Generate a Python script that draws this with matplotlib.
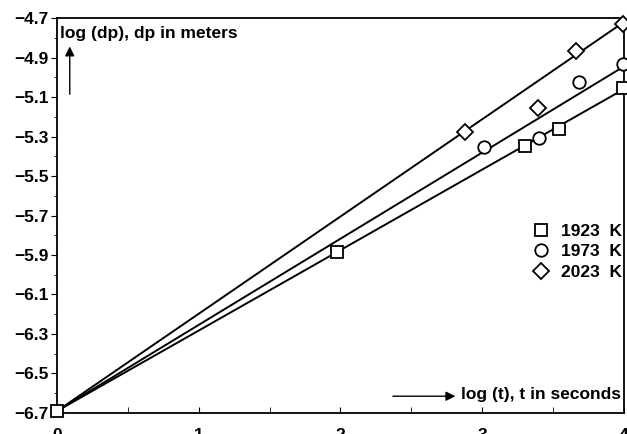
import matplotlib.pyplot as plt
import numpy as np
from matplotlib.ticker import MultipleLocator

plt.rcParams['font.family'] = ['Liberation Sans', 'DejaVu Sans']
plt.rcParams['font.weight'] = 'bold'

# measured points, log(t) vs log(dp)
x_1923 = [0.0, 1.975, 3.30, 3.54, 3.99]
y_1923 = [-6.69, -5.885, -5.348, -5.262, -5.054]
x_1973 = [3.01, 3.40, 3.68, 3.99]
y_1973 = [-5.353, -5.308, -5.024, -4.933]
x_2023 = [2.88, 3.39, 3.66, 3.99]
y_2023 = [-5.277, -5.156, -4.867, -4.73]

# fitted lines (end points)
fit_x = [0.0, 4.0]
fit_1923 = [-6.69, -5.06]
fit_1973 = [-6.69, -4.945]
fit_2023 = [-6.69, -4.72]

yticks = [-6.7, -6.5, -6.3, -6.1, -5.9, -5.7, -5.5, -5.3, -5.1, -4.9, -4.7]

fig = plt.figure(figsize=(6.27, 4.34), dpi=100)
ax = fig.add_axes([0.0909, 0.0484, 0.9043, 0.9101])

for fy in [fit_1923, fit_1973, fit_2023]:
    ax.plot(fit_x, fy, color='black', lw=1.4, zorder=2)

mk = dict(color='black', mfc='white', mec='black', mew=1.3, ls='none',
          zorder=3, clip_on=False)
ax.plot(x_1923, y_1923, marker='s', ms=8, label='1923  K', **mk)
ax.plot(x_1973, y_1973, marker='o', ms=9, label='1973  K', **mk)
ax.plot(x_2023, y_2023, marker='D', ms=8, label='2023  K', **mk)

ax.set_xlim(0, 4)
ax.set_ylim(-6.7, -4.7)
ax.set_xticks([0, 1, 2, 3, 4])
ax.set_yticks(yticks)
ax.set_yticklabels(['\u2212%.1f' % abs(v) for v in yticks])
ax.xaxis.set_minor_locator(MultipleLocator(0.5))
ax.yaxis.set_minor_locator(MultipleLocator(0.1))
ax.tick_params(axis='x', which='both', direction='in', length=4, pad=11,
               labelsize=12.5)
ax.tick_params(axis='y', which='major', direction='out', length=4,
               labelsize=12.5, pad=2)
ax.tick_params(axis='y', which='minor', direction='out', length=2)
for s in ax.spines.values():
    s.set_linewidth(1.3)

ax.text(0.02, -4.78, 'log (dp), dp in meters', fontsize=12.5,
        fontweight='bold', va='center', ha='left')
ax.annotate('', xy=(0.09, -4.83), xytext=(0.09, -5.1),
            arrowprops=dict(arrowstyle='-|>', color='black', lw=1,
                            mutation_scale=14))
ax.text(3.98, -6.605, 'log (t), t in seconds', fontsize=12.5,
        fontweight='bold', va='center', ha='right')
ax.annotate('', xy=(2.83, -6.615), xytext=(2.35, -6.615),
            arrowprops=dict(arrowstyle='-|>', color='black', lw=1,
                            mutation_scale=14))

leg = ax.legend(loc='center right', bbox_to_anchor=(1.009, 0.408),
                frameon=False, fontsize=12.5, handletextpad=0.65,
                labelspacing=0.3, handlelength=1.0, borderaxespad=0.0)

fig.savefig('out.png', dpi=100)
